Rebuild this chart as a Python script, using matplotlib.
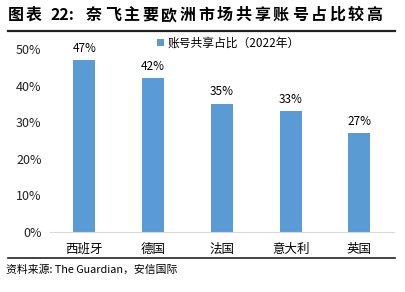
import matplotlib
matplotlib.use('Agg')
from matplotlib import pyplot as plt
from matplotlib.lines import Line2D

plt.rcParams['font.family'] = ['Noto Sans CJK SC', 'DejaVu Sans']

countries = ['西班牙', '德国', '法国', '意大利', '英国']
share = [0.47, 0.42, 0.35, 0.33, 0.27]
yticks = [0, 0.1, 0.2, 0.3, 0.4, 0.5]
title_body = '奈飞主要欧洲市场共享账号占比较高'

W, H = 406, 292
fig = plt.figure(figsize=(W / 100, H / 100), dpi=100)
ax = fig.add_axes([0.123, 0.2055, 0.847, 0.6265])

ax.bar(range(len(countries)), share, width=0.32, color='#5B9BD5',
       label='账号共享占比（2022年）')
for i, v in enumerate(share):
    ax.text(i, v + 0.015, f'{v*100:.0f}%', ha='center', va='bottom', fontsize=8.5)

ax.set_xlim(-0.5, 4.5)
ax.set_ylim(0, 0.5)
ax.set_yticks(yticks)
ax.set_yticklabels([f'{t*100:.0f}%' for t in yticks], fontsize=9, color='#222222')
ax.set_xticks(range(len(countries)))
ax.set_xticklabels(countries, fontsize=9)
ax.tick_params(axis='x', length=0, pad=8)
ax.tick_params(axis='y', length=0, pad=6)
for s in ['top', 'right', 'left']:
    ax.spines[s].set_visible(False)
ax.spines['bottom'].set_color('#d9d9d9')

ax.legend(loc='upper center', bbox_to_anchor=(0.52, 1.125), frameon=False, fontsize=8.5,
          handlelength=0.6, handleheight=0.6, handletextpad=0.3)

# title, spaced out character by character like the original
ty = 1 - 15 / H
tkw = dict(fontsize=11.5, fontweight='bold', va='center', ha='center')
fig.text(16 / W, ty, '图', **tkw)
fig.text(34 / W, ty, '表', **tkw)
fig.text(62 / W, ty, '22:', **tkw)
for k, ch in enumerate(title_body):
    fig.text((94 + 18.7 * k) / W, ty, ch, **tkw)
fig.add_artist(Line2D([8 / W, 395 / W], [1 - 31 / H, 1 - 31 / H], color='#222222', lw=1.6))
fig.add_artist(Line2D([8 / W, 395 / W], [1 - 258 / H, 1 - 258 / H], color='#222222', lw=1.2))
fig.text(6 / W, 1 - 270 / H, '资料来源: The Guardian，安信国际', fontsize=7.8, va='center')

fig.savefig('out.png', dpi=100)
